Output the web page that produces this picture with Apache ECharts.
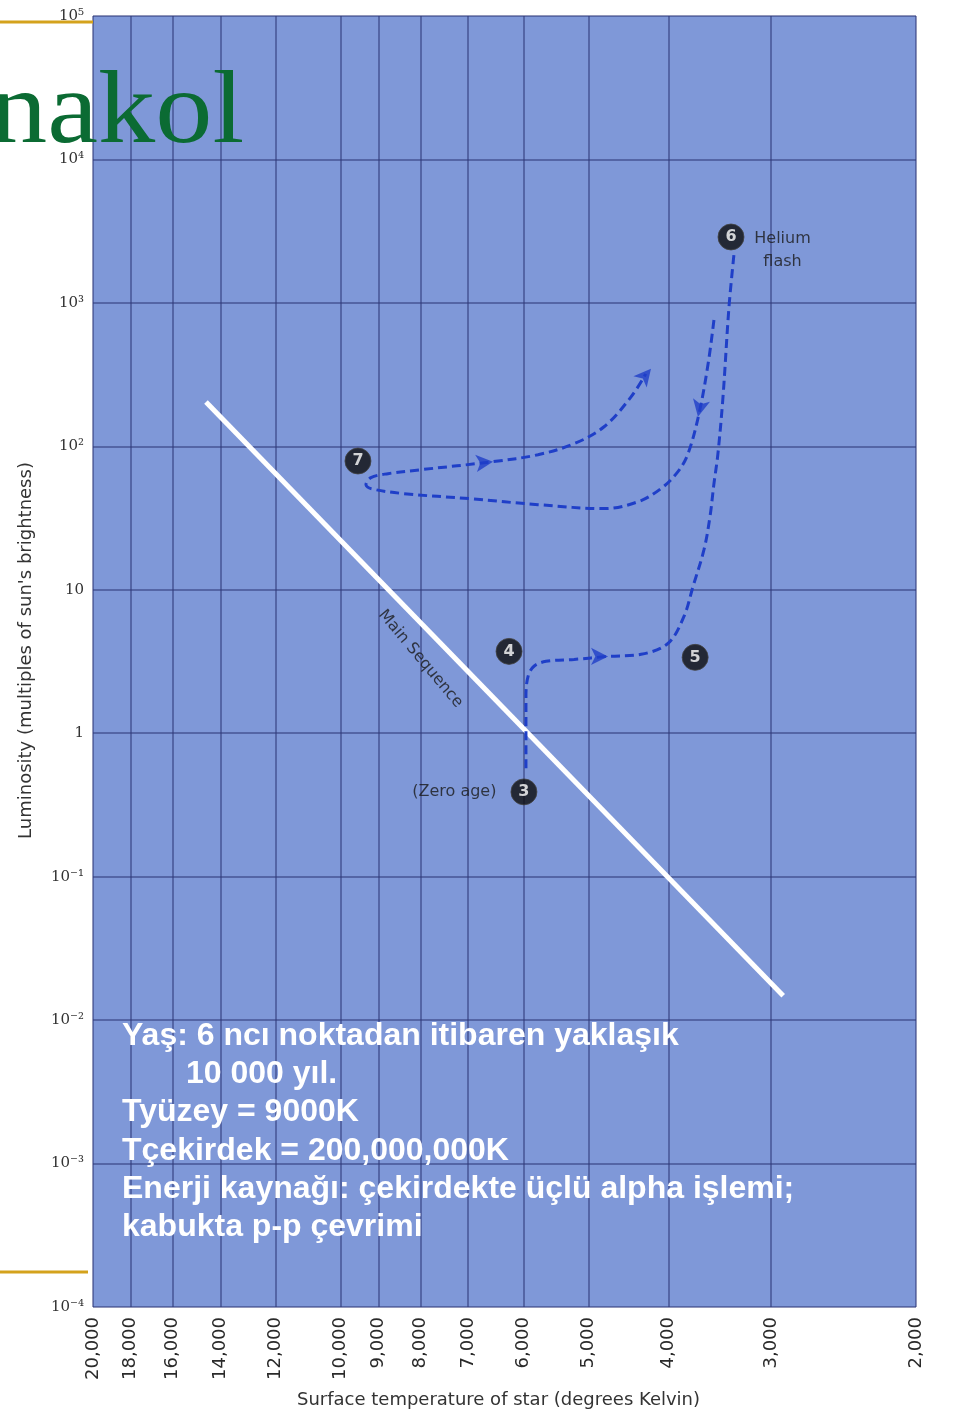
<!DOCTYPE html>
<html>
<head>
<meta charset="utf-8">
<script src="https://cdn.jsdelivr.net/npm/echarts@6/dist/echarts.min.js"></script>
<style>
html,body{margin:0;padding:0;background:#fff;}
#chart{width:959px;height:1414px;}
</style>
</head>
<body>
<div id="chart"></div>
<script>
// ---- tick labels ----
const tempTicks = [20000, 18000, 16000, 14000, 12000, 10000, 9000, 8000, 7000, 6000, 5000, 4000, 3000, 2000];
const lumTicks = [1e-4, 1e-3, 1e-2, 1e-1, 1, 10, 100, 1000, 1e4, 1e5];
const lumTickLabels = ['10⁻⁴', '10⁻³', '10⁻²', '10⁻¹', '1', '10', '10²', '10³', '10⁴', '10⁵'];

// ---- main sequence line ----
const msTemp = [14580, 2900];
const msLum = [204, 0.0148];

// ---- numbered stages ----
const stageNames = ['3', '4', '5', '6', '7'];
const stageTemp = [5990, 6245, 3710, 3356, 9530];
const stageLum = [0.39, 3.72, 3.38, 2880, 79];

// ---- evolutionary track: zero age -> helium flash ----
const track1Temp = [5956, 5956, 5921, 5824, 5632, 5207, 4734, 4316, 4003, 3828, 3733, 3619, 3559, 3520, 3481, 3432, 3375, 3328];
const track1Lum = [0.571, 1.81, 2.49, 2.93, 3.17, 3.27, 3.43, 3.55, 4.23, 6.52, 10.5, 19.1, 32.4, 54.9, 88.8, 221, 936, 2188];

// ---- evolutionary track: after helium flash -> loop ----
const track2Temp = [3520, 3578, 3670, 3785, 3893, 4083, 4352, 4787, 5759, 6947, 8379, 9191, 9319, 9191, 8764, 7990, 6532, 5759, 5207, 4787, 4439, 4260];
const track2Lum = [760, 376, 169, 88.8, 66.6, 50.7, 41.1, 36.8, 39.2, 43.1, 46.8, 50.7, 54.0, 60.5, 64.5, 68.7, 78.2, 87.4, 104.2, 136.9, 221, 320];

// ---- arrow heads on tracks ----
const arrowTemp = [4734, 6532, 4198, 3681];
const arrowLum = [3.43, 78.2, 347, 161];
const arrowDir = [-90, -84, -40, 168];

// ---- annotations ----
const msLabelTemp = [8000];
const msLabelLum = [3.3];

const infoLines = [
  'Yaş: 6 ncı noktadan itibaren yaklaşık',
  '10 000 yıl.',
  'Tyüzey = 9000K',
  'Tçekirdek = 200,000,000K',
  'Enerji kaynağı: çekirdekte üçlü alpha işlemi;',
  'kabukta p-p çevrimi'
];
const infoIndent = [0, 64, 0, 0, 0, 0];

const zip = (a, b) => a.map((v, i) => [v, b[i]]);
const fmtThousands = v => {
  const r = Math.round(v);
  return String(r).replace(/\B(?=(\d{3})+(?!\d))/g, ',');
};

const trackColor = '#1f3fc8';
const gridColor = 'rgba(45,55,120,0.7)';

const chart = echarts.init(document.getElementById('chart'));
const graphics = [
  { type: 'line', z: 100, shape: { x1: 0, y1: 22, x2: 93, y2: 22 }, style: { stroke: '#d4a21c', lineWidth: 3 } },
  { type: 'line', z: 100, shape: { x1: 0, y1: 1272, x2: 88, y2: 1272 }, style: { stroke: '#d4a21c', lineWidth: 3 } },
  { type: 'text', z: 100, x: -10, y: 63, scaleX: 1.1, style: { text: 'nakol', font: '104px "Liberation Serif"', fill: '#0b6b33' } }
];
infoLines.forEach((t, i) => {
  graphics.push({
    type: 'text', z: 100, left: 122 + infoIndent[i], top: 1020 + i * 38.3,
    style: { text: t, font: 'bold 32px "Liberation Sans"', fill: '#ffffff' }
  });
});

chart.setOption({
  animation: false,
  backgroundColor: '#ffffff',
  grid: { left: 93, right: 43, top: 16, bottom: 103, show: true, backgroundColor: '#7f98d8', borderWidth: 0 },
  xAxis: {
    type: 'log', logBase: 10, min: 2000, max: 20000, inverse: true,
    name: 'Surface temperature of star (degrees Kelvin)',
    nameLocation: 'middle', nameGap: 84,
    nameTextStyle: { fontFamily: 'DejaVu Sans', fontSize: 18, color: '#333', padding: [0, 12, 0, 0] },
    axisLine: { show: false },
    axisTick: { show: false, customValues: tempTicks },
    axisLabel: {
      customValues: tempTicks, rotate: 90, margin: 10,
      fontFamily: 'DejaVu Sans', fontSize: 18, color: '#2a2a2a',
      formatter: v => fmtThousands(v)
    },
    splitLine: { show: true, lineStyle: { color: gridColor, width: 1.5 } },
    minorSplitLine: { show: false }
  },
  yAxis: {
    type: 'log', logBase: 10, min: 1e-4, max: 1e5,
    name: "Luminosity (multiples of sun's brightness)",
    nameLocation: 'middle', nameGap: 58,
    nameTextStyle: { fontFamily: 'DejaVu Sans', fontSize: 18, color: '#333', padding: [0, 0, 0, 22] },
    axisLine: { show: false },
    axisTick: { show: false, customValues: lumTicks },
    axisLabel: {
      customValues: lumTicks, margin: 9,
      fontFamily: 'DejaVu Serif', fontSize: 15, color: '#333',
      formatter: v => lumTickLabels[Math.round(Math.log10(v)) + 4]
    },
    splitLine: { show: true, lineStyle: { color: gridColor, width: 1.5 } },
    minorSplitLine: { show: false }
  },
  graphic: graphics,
  series: [
    {
      type: 'line', name: 'Main sequence', data: zip(msTemp, msLum),
      symbol: 'none', lineStyle: { color: '#ffffff', width: 5 }, z: 3
    },
    {
      type: 'line', name: 'Track 1', data: zip(track1Temp, track1Lum), smooth: 0.35,
      symbol: 'none', lineStyle: { color: trackColor, width: 3, type: [9, 5] }, z: 4
    },
    {
      type: 'line', name: 'Track 2', data: zip(track2Temp, track2Lum), smooth: 0.35,
      symbol: 'none', lineStyle: { color: trackColor, width: 3, type: [9, 5] }, z: 4
    },
    {
      type: 'scatter', name: 'Arrows', z: 5,
      data: arrowTemp.map((t, i) => ({ value: [t, arrowLum[i]], symbolRotate: arrowDir[i] })),
      symbol: 'arrow', symbolSize: [13, 17], itemStyle: { color: trackColor }
    },
    {
      type: 'scatter', name: 'Stages', z: 6,
      data: stageNames.map((n, i) => ({ value: [stageTemp[i], stageLum[i]], name: n })),
      symbol: 'circle', symbolSize: 26,
      itemStyle: { color: '#0d0d0d', borderColor: '#444', borderWidth: 1 },
      label: { show: true, position: 'inside', formatter: p => p.name, color: '#fff', fontFamily: 'DejaVu Sans', fontWeight: 'bold', fontSize: 16 }
    },
    {
      type: 'scatter', name: 'Stage notes', z: 6, symbolSize: 1, itemStyle: { color: 'transparent' },
      data: [
        { value: [stageTemp[0], stageLum[0]], label: { show: true, position: 'left', distance: 27, formatter: '(Zero age)' } },
        { value: [stageTemp[3], stageLum[3]], label: { show: true, position: 'right', distance: 0, align: 'center', offset: [51, 13], lineHeight: 23, formatter: 'Helium\nflash' } }
      ],
      label: { color: '#1a1a1a', fontFamily: 'DejaVu Sans', fontSize: 16 }
    },
    {
      type: 'scatter', name: 'Main sequence label', z: 6, symbolSize: 1, itemStyle: { color: 'transparent' },
      data: zip(msLabelTemp, msLabelLum),
      label: { show: true, position: 'inside', rotate: -50, formatter: 'Main Sequence', color: '#1a1a1a', fontFamily: 'DejaVu Sans', fontSize: 16 }
    }
  ]
});
</script>
</body>
</html>
